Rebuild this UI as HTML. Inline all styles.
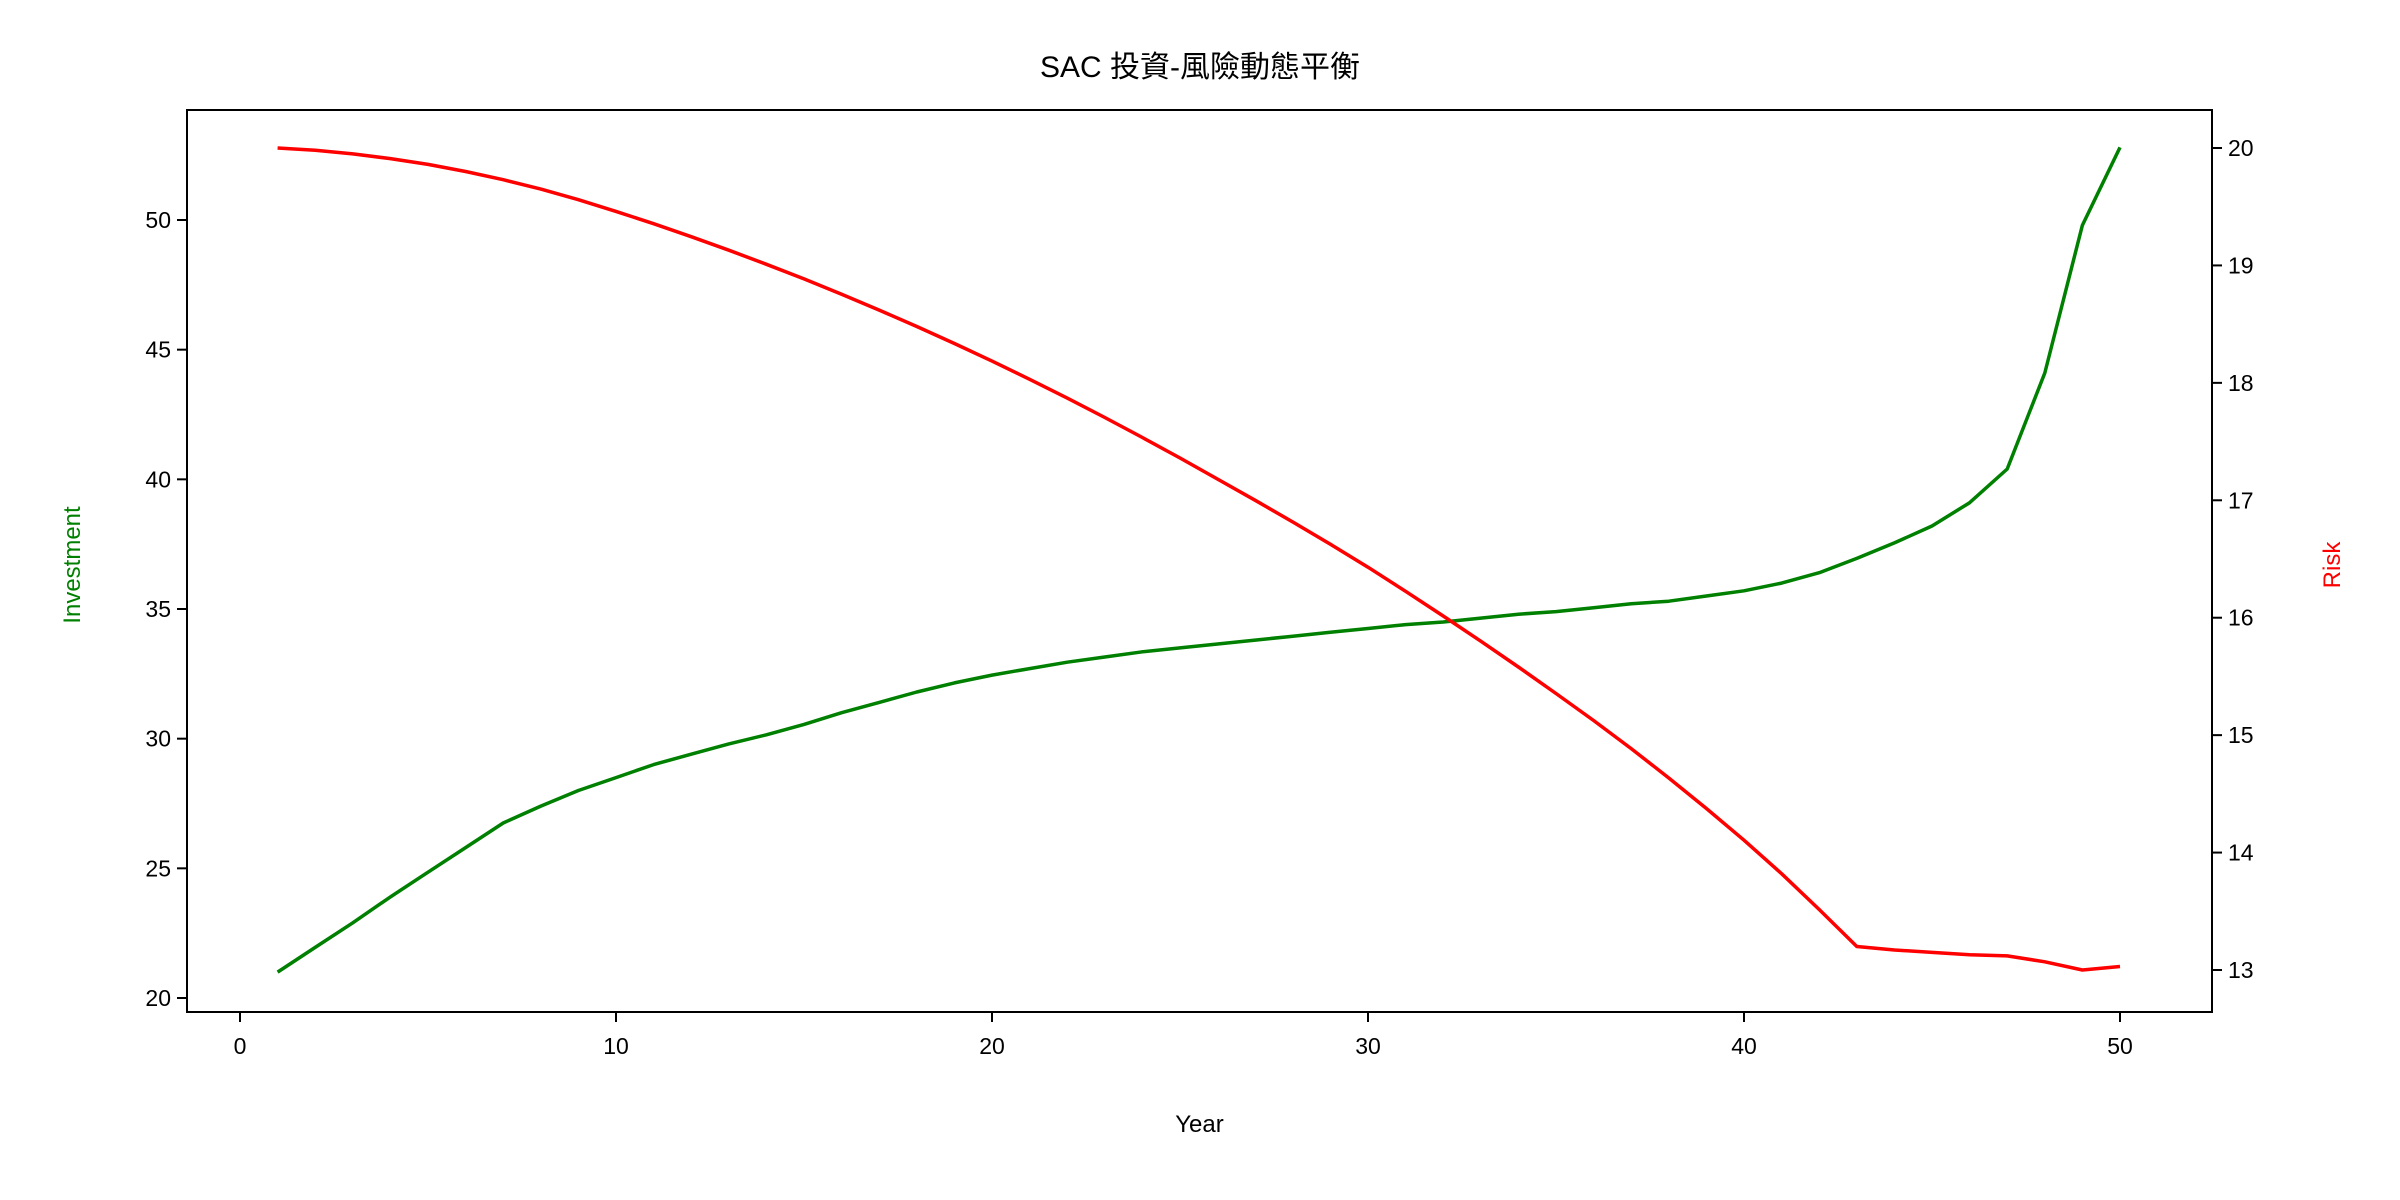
<!DOCTYPE html>
<html><head><meta charset="utf-8"><style>
html,body{margin:0;padding:0;background:#fff;}
svg{display:block;font-family:"Liberation Sans","Noto Sans CJK TC",sans-serif;}
</style></head><body>
<svg id="chart" width="2400" height="1200" viewBox="0 0 2400 1200">
<text x="1200" y="77" text-anchor="middle" font-size="30" fill="#000">SAC 投資-風險動態平衡</text>
<g id="plot"></g>
</svg>
<script>
const years = Array.from({length:50},(_,i)=>i+1);
const investment = [21.0,21.95,22.9,23.9,24.85,25.8,26.75,27.4,28.0,28.5,29.0,29.4,29.8,30.15,30.55,31.0,31.4,31.8,32.15,32.45,32.7,32.95,33.15,33.35,33.5,33.65,33.8,33.95,34.1,34.25,34.4,34.5,34.65,34.8,34.9,35.05,35.2,35.3,35.5,35.7,36.0,36.4,36.95,37.55,38.2,39.1,40.4,44.1,49.8,52.8];
const risk = [20.0,19.98,19.95,19.91,19.86,19.80,19.73,19.65,19.56,19.46,19.355,19.245,19.13,19.01,18.885,18.755,18.62,18.48,18.335,18.185,18.03,17.87,17.705,17.535,17.36,17.18,17.0,16.815,16.625,16.43,16.225,16.015,15.80,15.58,15.355,15.125,14.885,14.635,14.375,14.105,13.82,13.515,13.2,13.17,13.15,13.13,13.12,13.07,13.0,13.03];
const xTicks = [0,10,20,30,40,50];
const leftTicks = [20,25,30,35,40,45,50];
const rightTicks = [13,14,15,16,17,18,19,20];

const L=187,R=2212,T=110,B=1012;
const xs=v=>240+(v-0)*(2120-240)/50;
const yl=v=>998+(v-20)*(220-998)/30;
const yr=v=>970+(v-13)*(148-970)/7;
const NS='http://www.w3.org/2000/svg';
const g=document.getElementById('plot');
function mk(tag,attrs){const e=document.createElementNS(NS,tag);for(const k in attrs)e.setAttribute(k,attrs[k]);g.appendChild(e);return e;}

let d='';years.forEach((y,i)=>{d+=(i?'L':'M')+xs(y).toFixed(1)+','+yl(investment[i]).toFixed(1);});
const lg=mk('path',{d:d,fill:'none',stroke:'#008000','stroke-width':3.5,'stroke-linejoin':'round'});


d='';years.forEach((y,i)=>{d+=(i?'L':'M')+xs(y).toFixed(1)+','+yr(risk[i]).toFixed(1);});
const lr=mk('path',{d:d,fill:'none',stroke:'#ff0000','stroke-width':3.5,'stroke-linejoin':'round'});



const fr=mk('rect',{x:L,y:T,width:R-L,height:B-T,fill:'none',stroke:'#000','stroke-width':2});



xTicks.forEach(v=>{
 const x=xs(v);
 mk('line',{x1:x,x2:x,y1:B,y2:B+10,stroke:'#000','stroke-width':2});
 const t=mk('text',{x:x,y:B+42,'text-anchor':'middle','font-size':23});t.textContent=v;
 
 
});
leftTicks.forEach(v=>{
 const y=yl(v);
 mk('line',{x1:L-10,x2:L,y1:y,y2:y,stroke:'#000','stroke-width':2});
 const t=mk('text',{x:L-16,y:y+8,'text-anchor':'end','font-size':23});t.textContent=v;
 
 
});
rightTicks.forEach(v=>{
 const y=yr(v);
 mk('line',{x1:R,x2:R+10,y1:y,y2:y,stroke:'#000','stroke-width':2});
 const t=mk('text',{x:R+16,y:y+8,'text-anchor':'start','font-size':23});t.textContent=v;
 
 
});
const xt=mk('text',{x:(L+R)/2,y:1132,'text-anchor':'middle','font-size':24});xt.textContent='Year';


const ylt=mk('text',{x:0,y:0,'text-anchor':'middle','font-size':24,fill:'#008000',transform:'translate(80,565) rotate(-90)'});ylt.textContent='Investment';


const yrt=mk('text',{x:0,y:0,'text-anchor':'middle','font-size':24,fill:'#ff0000',transform:'translate(2340,565) rotate(-90)'});yrt.textContent='Risk';


</script>
</body></html>
